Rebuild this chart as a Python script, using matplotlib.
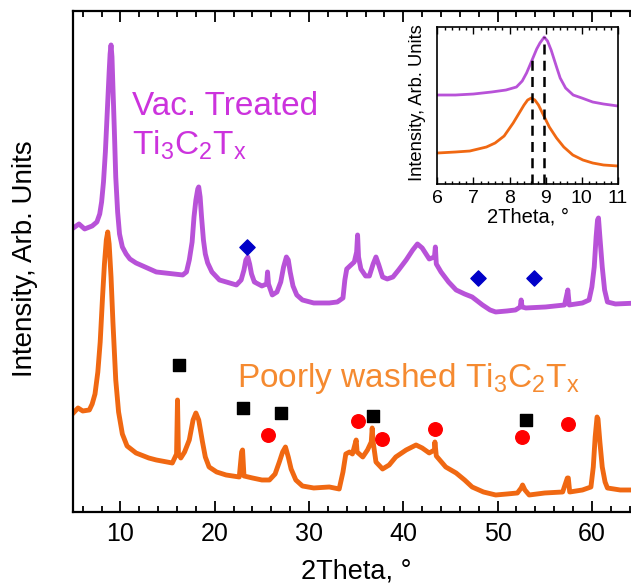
import matplotlib.pyplot as plt
import numpy as np

plt.rcParams['font.family'] = ['Liberation Sans', 'DejaVu Sans']
plt.rcParams['mathtext.fontset'] = 'custom'
plt.rcParams['mathtext.rm'] = 'Liberation Sans'
plt.rcParams['mathtext.default'] = 'regular'

# main pattern, vacuum treated sample (2theta, intensity in arb. units)
vac_x = [5.0, 5.6, 6.2, 7.0, 7.5, 7.8, 8.0, 8.2, 8.4, 8.6, 8.8, 8.9, 9.0, 9.1, 9.2, 9.35,
         9.5, 9.7, 9.9, 10.2, 10.6, 11.0, 11.65, 13.8, 16.6, 17.0, 17.3, 17.6, 17.8, 18.0,
         18.2, 18.3, 18.45, 18.6, 18.8, 19.0, 19.25, 19.7, 20.5, 22.3, 22.8, 23.1, 23.3,
         23.5, 23.7, 23.9, 24.2, 24.4, 25.0, 25.5, 25.6, 25.7, 26.1, 26.6, 27.0, 27.3,
         27.6, 27.8, 28.0, 28.3, 28.7, 29.3, 30.5, 32.15, 33.0, 33.6, 33.8, 34.0, 34.45,
         34.8, 35.05, 35.15, 35.25, 35.5, 36.0, 36.4, 36.8, 37.1, 37.4, 37.8, 38.3, 38.9,
         39.5, 40.3, 41.0, 41.5, 42.0, 42.75, 43.3, 43.4, 43.5, 44.0, 44.8, 45.6, 46.5,
         47.3, 48.4, 49.2, 49.8, 51.0, 51.9, 52.4, 52.5, 52.6, 53.0, 55.1, 57.1, 57.45,
         57.6, 59.0, 59.7, 60.0, 60.25, 60.45, 60.6, 60.7, 60.85, 61.1, 61.35, 61.65,
         62.5, 65.0]
vac_y = [284, 288, 283, 286, 290, 298, 310, 330, 360, 400, 440, 458, 467, 455, 425, 382,
         335, 300, 278, 265, 258, 253, 249, 240, 237, 240, 252, 270, 295, 312,
         323, 325, 315, 295, 272, 258, 249, 240, 232, 227, 232, 242, 252,
         255, 248, 238, 230, 229, 226, 228, 240, 228, 217, 220, 230, 245,
         255, 252, 240, 226, 217, 212, 209, 209, 210, 214, 232, 243, 247,
         250, 260, 277, 255, 243, 236, 236, 248, 255, 247, 235, 233, 235,
         242, 252, 262, 268, 264, 253, 255, 265, 248, 240, 230, 222, 218,
         215, 207, 202, 200, 201, 202, 205, 212, 205, 204, 205, 207, 222,
         207, 209, 212, 225, 245, 275, 292, 294, 275, 245, 222, 210,
         208, 209]

# main pattern, poorly washed sample
pw_x = [5.0, 5.5, 6.0, 6.7, 7.0, 7.3, 7.6, 7.85, 8.1, 8.3, 8.5, 8.65, 8.8, 9.0, 9.2, 9.5,
        9.8, 10.2, 10.7, 11.65, 13.0, 13.8, 15.5, 15.95, 16.05, 16.15, 16.4, 16.8, 17.3,
        17.7, 18.0, 18.3, 18.7, 19.0, 19.4, 20.2, 21.2, 22.6, 22.85, 22.95, 23.1, 24.0,
        25.0, 25.8, 26.4, 26.85, 27.2, 27.5, 27.8, 28.1, 28.6, 29.3, 30.5, 32.15, 33.2,
        33.6, 33.9, 34.3, 34.6, 35.0, 35.1, 35.7, 36.2, 36.6, 36.7, 36.8, 37.1, 37.8,
        38.5, 39.2, 40.3, 41.35, 42.0, 42.75, 43.3, 43.35, 43.5, 44.5, 45.6, 46.5, 47.3,
        48.5, 49.8, 51.0, 52.1, 52.5, 52.65, 52.9, 53.35, 55.0, 56.9, 57.4, 57.5, 57.65,
        59.0, 59.9, 60.15, 60.35, 60.55, 60.65, 60.85, 61.1, 61.4, 61.65, 63.0, 65.0]
pw_y = [99, 104, 101, 102, 108, 118, 140, 170, 215, 248, 272, 280, 268, 235, 190, 132,
        100, 78, 66, 59, 54, 52, 49, 58, 112, 58, 54, 60, 72,
        92, 99, 92, 70, 55, 45, 40, 37, 35, 60, 62, 36, 34,
        32, 32, 38, 50, 60, 65, 55, 43, 32, 26, 24, 25, 23,
        40, 58, 60, 58, 72, 60, 55, 62, 70, 84, 70, 50, 43,
        47, 55, 62, 67, 64, 59, 62, 70, 56, 45, 39, 32, 25,
        20, 17, 18, 19, 24, 27, 22, 17, 19, 20, 34, 34, 20,
        22, 25, 45, 75, 95, 93, 70, 45, 30, 24, 22, 22]

# peak markers
dia_x = [23.4, 47.9, 53.9]
dia_y = [265, 234, 234]
sq_x = [16.2, 23.0, 27.05, 36.8, 53.0]
sq_y = [147, 104, 99, 96, 92]
circ_x = [25.6, 35.15, 37.75, 43.35, 52.55, 57.5]
circ_y = [77, 91, 73, 83, 75, 88]

# inset: first (00l) peak
ins_vac_x = [6.0, 6.5, 7.0, 7.5, 7.9, 8.19, 8.35, 8.47, 8.6, 8.75, 8.84, 8.96, 9.05, 9.15,
             9.3, 9.4, 9.55, 9.76, 10.0, 10.3, 10.6, 11.0]
ins_vac_y = [89, 89, 90, 92, 94, 97, 103, 111, 122, 135, 141, 147, 143, 134,
             117, 106, 96, 89, 86, 82, 80, 78]
ins_pw_x = [6.0, 6.5, 6.9, 7.36, 7.6, 7.85, 8.1, 8.25, 8.4, 8.5, 8.6, 8.7, 8.8, 8.95,
            9.1, 9.3, 9.5, 9.75, 10.03, 10.3, 10.6, 11.0]
ins_pw_y = [31, 32, 33, 37, 41, 48, 61, 70, 79, 84, 86, 84, 79, 68,
            57, 46, 37, 29, 24, 21, 19, 18]
peak_pos = [8.61, 8.96]
peak_top = [124, 147]

purple = '#b852d8'
purple_txt = '#cc33dd'
orange = '#f06812'
orange_txt = '#f58a30'

fig = plt.figure(figsize=(6.31, 5.86), dpi=100)
ax = fig.add_axes([0.1162, 0.1263, 0.8965, 0.855])

ax.plot(vac_x, vac_y, color=purple, lw=3.5)
ax.plot(pw_x, pw_y, color=orange, lw=3.5)
ax.scatter(dia_x, dia_y, marker='D', s=60, color='#0000c8', zorder=3)
ax.scatter(sq_x, sq_y, marker='s', s=75, color='black', zorder=3)
ax.scatter(circ_x, circ_y, marker='o', s=95, color='#ff0000', zorder=3)

ax.text(11.26, 397, 'Vac. Treated', color=purple_txt, fontsize=24, va='baseline')
ax.text(11.26, 357, 'Ti$_3$C$_2$T$_x$', color=purple_txt, fontsize=24, va='baseline')
ax.text(22.39, 125, 'Poorly washed Ti$_3$C$_2$T$_x$', color=orange_txt, fontsize=24, va='baseline')

ax.set_xlim(5, 65)
ax.set_ylim(0, 501)
ax.set_xticks([10, 20, 30, 40, 50, 60])
ax.set_xticks(np.arange(6, 65, 2), minor=True)
ax.set_yticks([])
ax.tick_params(axis='x', which='both', direction='in', top=True, labelsize=18, width=1.3, pad=7)
ax.tick_params(axis='x', which='major', length=8)
ax.tick_params(axis='x', which='minor', length=4.5)
for s in ax.spines.values():
    s.set_linewidth(1.6)
ax.set_xlabel('2Theta, °', fontsize=19.5)
ax.xaxis.set_label_coords(0.5, -0.118)
ax.xaxis.label.set_verticalalignment('center')
ax.set_ylabel('Intensity, Arb. Units', fontsize=20)
ax.yaxis.set_label_coords(-0.0854, 0.505)
ax.yaxis.label.set_verticalalignment('center')

# inset
ins = fig.add_axes([0.693, 0.686, 0.2864, 0.2684])
ins.plot(ins_vac_x, ins_vac_y, color=purple, lw=2)
ins.plot(ins_pw_x, ins_pw_y, color=orange, lw=2)
ins.vlines(peak_pos, 0, peak_top, colors='black', linestyles=(0, (4, 2.5)), lw=1.8)
ins.set_xlim(6, 11)
ins.set_ylim(0, 157.3)
ins.set_xticks([6, 7, 8, 9, 10, 11])
ins.set_xticks(np.arange(6, 11.01, 0.2), minor=True)
ins.set_yticks([])
ins.tick_params(axis='x', which='both', direction='in', top=True, labelsize=14, width=1, pad=4)
ins.tick_params(axis='x', which='major', length=5)
ins.tick_params(axis='x', which='minor', length=2.5)
for s in ins.spines.values():
    s.set_linewidth(1.2)
ins.set_xlabel('2Theta, °', fontsize=14.5)
ins.xaxis.set_label_coords(0.5, -0.21)
ins.xaxis.label.set_verticalalignment('center')
ins.set_ylabel('Intensity, Arb. Units', fontsize=13.2)
ins.yaxis.set_label_coords(-0.107, 0.518)
ins.yaxis.label.set_verticalalignment('center')

fig.savefig('out.png', dpi=100)
